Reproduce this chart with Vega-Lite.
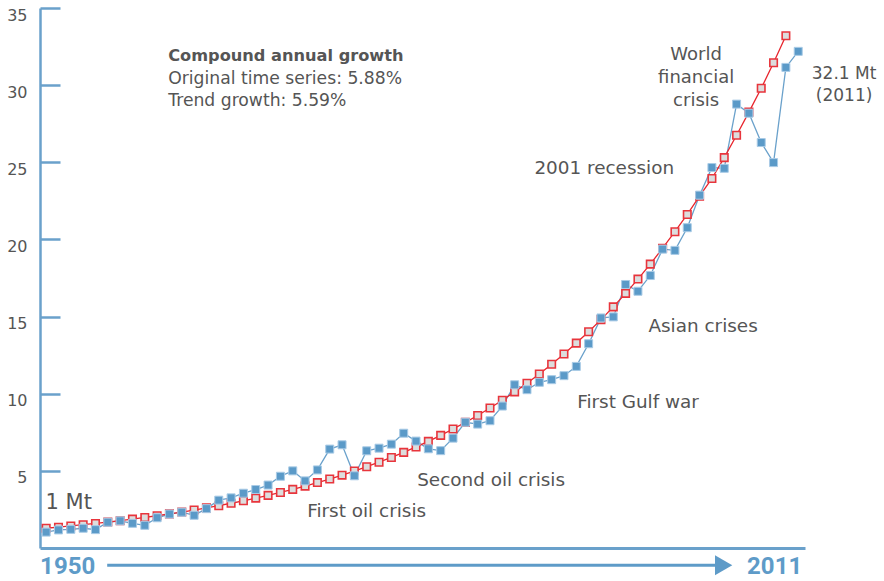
{
  "$schema": "https://vega.github.io/schema/vega-lite/v6.json",
  "width": 765,
  "height": 540,
  "autosize": {"type": "none"},
  "padding": {"left": 40, "top": 8, "right": 79, "bottom": 33},
  "config": {
    "view": {"stroke": null},
    "font": "DejaVu Sans",
    "text": {"font": "DejaVu Sans", "color": "#555555"}
  },
  "datasets": {
    "actual": [
      {"year": 1950, "value": 1.03}, {"year": 1951, "value": 1.17}, {"year": 1952, "value": 1.21},
      {"year": 1953, "value": 1.28}, {"year": 1954, "value": 1.19}, {"year": 1955, "value": 1.67},
      {"year": 1956, "value": 1.76}, {"year": 1957, "value": 1.60}, {"year": 1958, "value": 1.47},
      {"year": 1959, "value": 1.96}, {"year": 1960, "value": 2.20}, {"year": 1961, "value": 2.32},
      {"year": 1962, "value": 2.12}, {"year": 1963, "value": 2.55}, {"year": 1964, "value": 3.10},
      {"year": 1965, "value": 3.25}, {"year": 1966, "value": 3.55}, {"year": 1967, "value": 3.79},
      {"year": 1968, "value": 4.08}, {"year": 1969, "value": 4.65}, {"year": 1970, "value": 5.00},
      {"year": 1971, "value": 4.35}, {"year": 1972, "value": 5.06}, {"year": 1973, "value": 6.41},
      {"year": 1974, "value": 6.69}, {"year": 1975, "value": 4.68}, {"year": 1976, "value": 6.30},
      {"year": 1977, "value": 6.47}, {"year": 1978, "value": 6.73}, {"year": 1979, "value": 7.44},
      {"year": 1980, "value": 6.93}, {"year": 1981, "value": 6.43}, {"year": 1982, "value": 6.31},
      {"year": 1983, "value": 7.12}, {"year": 1984, "value": 8.15}, {"year": 1985, "value": 8.03},
      {"year": 1986, "value": 8.25}, {"year": 1987, "value": 9.20}, {"year": 1988, "value": 10.58},
      {"year": 1989, "value": 10.26}, {"year": 1990, "value": 10.74}, {"year": 1991, "value": 10.91},
      {"year": 1992, "value": 11.17}, {"year": 1993, "value": 11.77}, {"year": 1994, "value": 13.24},
      {"year": 1995, "value": 14.91}, {"year": 1996, "value": 14.98}, {"year": 1997, "value": 17.08},
      {"year": 1998, "value": 16.64}, {"year": 1999, "value": 17.66}, {"year": 2000, "value": 19.37},
      {"year": 2001, "value": 19.29}, {"year": 2002, "value": 20.76}, {"year": 2003, "value": 22.87},
      {"year": 2004, "value": 24.66}, {"year": 2005, "value": 24.61}, {"year": 2006, "value": 28.77},
      {"year": 2007, "value": 28.18}, {"year": 2008, "value": 26.28}, {"year": 2009, "value": 24.98},
      {"year": 2010, "value": 31.15}, {"year": 2011, "value": 32.19}
    ],
    "trend": [
      {"year": 1950, "value": 1.28}, {"year": 1951, "value": 1.35}, {"year": 1952, "value": 1.43},
      {"year": 1953, "value": 1.51}, {"year": 1954, "value": 1.59}, {"year": 1955, "value": 1.68},
      {"year": 1956, "value": 1.77}, {"year": 1957, "value": 1.87}, {"year": 1958, "value": 1.98},
      {"year": 1959, "value": 2.09}, {"year": 1960, "value": 2.21}, {"year": 1961, "value": 2.33},
      {"year": 1962, "value": 2.46}, {"year": 1963, "value": 2.60}, {"year": 1964, "value": 2.74},
      {"year": 1965, "value": 2.90}, {"year": 1966, "value": 3.06}, {"year": 1967, "value": 3.23},
      {"year": 1968, "value": 3.41}, {"year": 1969, "value": 3.60}, {"year": 1970, "value": 3.80},
      {"year": 1971, "value": 4.01}, {"year": 1972, "value": 4.24}, {"year": 1973, "value": 4.47},
      {"year": 1974, "value": 4.72}, {"year": 1975, "value": 4.99}, {"year": 1976, "value": 5.27},
      {"year": 1977, "value": 5.56}, {"year": 1978, "value": 5.87}, {"year": 1979, "value": 6.20},
      {"year": 1980, "value": 6.55}, {"year": 1981, "value": 6.91}, {"year": 1982, "value": 7.30},
      {"year": 1983, "value": 7.71}, {"year": 1984, "value": 8.14}, {"year": 1985, "value": 8.59},
      {"year": 1986, "value": 9.07}, {"year": 1987, "value": 9.58}, {"year": 1988, "value": 10.12},
      {"year": 1989, "value": 10.68}, {"year": 1990, "value": 11.28}, {"year": 1991, "value": 11.91},
      {"year": 1992, "value": 12.57}, {"year": 1993, "value": 13.28}, {"year": 1994, "value": 14.02},
      {"year": 1995, "value": 14.80}, {"year": 1996, "value": 15.63}, {"year": 1997, "value": 16.50},
      {"year": 1998, "value": 17.43}, {"year": 1999, "value": 18.40}, {"year": 2000, "value": 19.43},
      {"year": 2001, "value": 20.50}, {"year": 2002, "value": 21.62}, {"year": 2003, "value": 22.80},
      {"year": 2004, "value": 23.95}, {"year": 2005, "value": 25.30}, {"year": 2006, "value": 26.75},
      {"year": 2007, "value": 28.25}, {"year": 2008, "value": 29.80}, {"year": 2009, "value": 31.45},
      {"year": 2010, "value": 33.20}
    ]
  },
  "encoding": {
    "x": {
      "field": "year", "type": "quantitative",
      "scale": {"domain": [1949.5, 2011.55], "nice": false, "zero": false},
      "axis": {"title": null, "labels": false, "ticks": false, "grid": false, "domainColor": "#6aa1cb", "domainWidth": 3}
    },
    "y": {
      "field": "value", "type": "quantitative",
      "scale": {"domain": [0, 35], "nice": false, "zero": true},
      "axis": {
        "title": null, "grid": false, "values": [5, 10, 15, 20, 25, 30, 35],
        "domainColor": "#6aa1cb", "domainWidth": 2.5,
        "tickColor": "#6aa1cb", "tickWidth": 2.5, "tickSize": -20,
        "labelPadding": 33, "labelOffset": 7,
        "labelFont": "DejaVu Sans", "labelFontSize": 16, "labelColor": "#555555"
      }
    }
  },
  "layer": [
    {
      "data": {"name": "actual"},
      "mark": {"type": "line", "color": "#6aa1cb", "strokeWidth": 1.3, "clip": false}
    },
    {
      "data": {"name": "trend"},
      "mark": {"type": "line", "color": "#e8252d", "strokeWidth": 1.3, "clip": false}
    },
    {
      "data": {"name": "trend"},
      "mark": {"type": "point", "shape": "square", "size": 56, "filled": true, "fill": "#dddddd", "stroke": "#e8353c", "strokeWidth": 1.6, "opacity": 1, "clip": false}
    },
    {
      "data": {"name": "actual"},
      "mark": {"type": "point", "shape": "square", "size": 64, "filled": true, "fill": "#5b9ac8", "stroke": "#a9cbe6", "strokeWidth": 1, "opacity": 1, "clip": false}
    },
    {
      "data": {"values": [
        {"year": 1971.17, "value": 2.37, "label": "First oil crisis"},
        {"year": 1980.09, "value": 4.42, "label": "Second oil crisis"},
        {"year": 1993.07, "value": 9.45, "label": "First Gulf war"},
        {"year": 1998.85, "value": 14.4, "label": "Asian crises"},
        {"year": 1989.6, "value": 24.66, "label": "2001 recession"}
      ]},
      "mark": {"type": "text", "align": "left", "baseline": "middle", "fontSize": 18.4, "color": "#555555"},
      "encoding": {"text": {"field": "label"}}
    },
    {
      "data": {"values": [{"year": 1959.9, "value": 31.87, "label": "Compound annual growth"}]},
      "mark": {"type": "text", "align": "left", "baseline": "middle", "fontSize": 16.2, "fontWeight": "bold", "color": "#555555"},
      "encoding": {"text": {"field": "label"}}
    },
    {
      "data": {"values": [
        {"year": 1959.9, "value": 30.39, "label": "Original time series: 5.88%"},
        {"year": 1959.9, "value": 28.95, "label": "Trend growth: 5.59%"}
      ]},
      "mark": {"type": "text", "align": "left", "baseline": "middle", "fontSize": 17.2, "color": "#555555"},
      "encoding": {"text": {"field": "label"}}
    },
    {
      "data": {"values": [{"year": 1949.95, "value": 2.9, "label": "1 Mt"}]},
      "mark": {"type": "text", "align": "left", "baseline": "middle", "fontSize": 21, "color": "#555555"},
      "encoding": {"text": {"field": "label"}}
    },
    {
      "data": {"values": [{"year": 2002.72, "value": 31.95, "label": "World|financial|crisis"}]},
      "mark": {"type": "text", "align": "center", "baseline": "middle", "fontSize": 18, "lineHeight": 23, "lineBreak": "|", "color": "#555555", "clip": false},
      "encoding": {"text": {"field": "label"}}
    },
    {
      "data": {"values": [{"year": 2014.72, "value": 30.71, "label": "32.1 Mt|(2011)"}]},
      "mark": {"type": "text", "align": "center", "baseline": "middle", "fontSize": 17, "lineHeight": 22, "lineBreak": "|", "color": "#555555", "clip": false},
      "encoding": {"text": {"field": "label"}}
    },
    {
      "data": {"values": [{"year": 1949.51, "value": -1.25, "label": "1950"}]},
      "mark": {"type": "text", "align": "left", "baseline": "middle", "fontSize": 24, "font": "Roboto", "fontWeight": "bold", "color": "#5e9bc8", "clip": false},
      "encoding": {"text": {"field": "label"}}
    },
    {
      "data": {"values": [{"year": 2011.32, "value": -1.25, "label": "2011"}]},
      "mark": {"type": "text", "align": "right", "baseline": "middle", "fontSize": 24, "font": "Roboto", "fontWeight": "bold", "color": "#5e9bc8", "clip": false},
      "encoding": {"text": {"field": "label"}}
    },
    {
      "data": {"values": [{"year": 1954.95, "year2": 2004.5, "value": -1.12}]},
      "mark": {"type": "rule", "color": "#5e9bc8", "strokeWidth": 3, "clip": false},
      "encoding": {"x2": {"field": "year2"}}
    },
    {
      "data": {"values": [{"year": 2004.95, "value": -1.12}]},
      "mark": {"type": "point", "shape": "triangle-right", "size": 400, "filled": true, "color": "#5e9bc8", "opacity": 1, "clip": false}
    }
  ]
}
